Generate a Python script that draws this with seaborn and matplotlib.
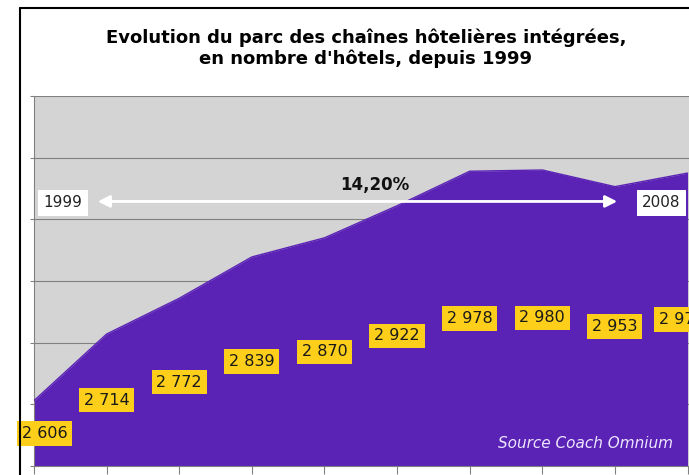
import matplotlib
matplotlib.use("Agg")
import matplotlib.pyplot as plt
from matplotlib.lines import Line2D
import numpy as np
import pandas as pd
import seaborn as sns

years = [1999, 2000, 2001, 2002, 2003, 2004, 2005, 2006, 2007, 2008]
hotels = [2606, 2714, 2772, 2839, 2870, 2922, 2978, 2980, 2953, 2975]
y_ticks = [2500, 2600, 2700, 2800, 2900, 3000, 3100]

PURPLE = "#5A22B5"
GREY_BG = "#D4D4D4"
YELLOW = "#FDCF1A"

sns.set_style("white")
plt.rcParams["font.family"] = ["DejaVu Sans"]

df = pd.DataFrame({"year": years, "hotels": hotels})
df["pos"] = np.arange(len(df))

fig = plt.figure(figsize=(6.89, 4.75), dpi=100)
ax = fig.add_axes([34 / 689, 9 / 475, 655 / 689, 370 / 475])
ax.set_facecolor(GREY_BG)

ax.fill_between(df["pos"], y_ticks[0], df["hotels"], color=PURPLE, lw=0, zorder=2)
sns.lineplot(data=df, x="pos", y="hotels", color=PURPLE, lw=1, ax=ax, zorder=3)

ax.set_xlim(0, 9.02)
ax.set_ylim(y_ticks[0], y_ticks[-1])
ax.set_yticks(y_ticks)
ax.set_xticks(df["pos"])
ax.set_yticklabels([])
ax.set_xticklabels([])
ax.set_xlabel("")
ax.set_ylabel("")
ax.grid(axis="y", color="#808080", lw=0.8, zorder=1)
ax.set_axisbelow(True)
ax.tick_params(axis="y", length=3, color="#808080", left=True)
ax.tick_params(axis="x", length=6, color="#808080", bottom=True)
for side in ["top", "right"]:
    ax.spines[side].set_visible(False)
for side in ["left", "bottom"]:
    ax.spines[side].set_color("#808080")
    ax.spines[side].set_linewidth(0.8)

# value labels, halfway up the area
shift = {0: 0.15, len(df) - 1: -0.08}
for i, row in df.iterrows():
    x = row["pos"] + shift.get(i, 0)
    ax.text(x, (row["hotels"] + y_ticks[0]) / 2, f"{row['hotels']:,}".replace(",", " "),
            ha="center", va="center", fontsize=11.5, color="#1a1a1a", zorder=5,
            bbox=dict(boxstyle="square,pad=0.3", fc=YELLOW, ec="none"), clip_on=False)

# 1999 -> 2008 arrow
ax.annotate("", xy=(0.84, 2929), xytext=(8.07, 2929),
            arrowprops=dict(arrowstyle="<|-|>,head_length=0.7,head_width=0.35",
                            color="white", lw=2), zorder=6)
for x, label in [(0.40, "1999"), (8.64, "2008")]:
    ax.text(x, 2927, label, ha="center", va="center", fontsize=11, color="#222222", zorder=7,
            bbox=dict(boxstyle="square,pad=0.35", fc="white", ec="none"))
ax.text(4.70, 2955, "14,20%", ha="center", va="center", fontsize=12,
        fontweight="bold", color="#111111", zorder=7)

ax.text(8.80, 2537, "Source Coach Omnium", ha="right", va="center", fontsize=11,
        fontstyle="italic", color="#EDE6FF", zorder=7)

fig.text(0.531, 0.899, "Evolution du parc des chaînes hôtelières intégrées,\nen nombre d'hôtels, depuis 1999",
         ha="center", va="center", fontsize=13, fontweight="bold", color="black", linespacing=1.2)

# outer chart frame (cropped on the right and bottom)
fig.add_artist(Line2D([20 / 689, 20 / 689], [0, 1 - 8 / 475], color="black", lw=1.5))
fig.add_artist(Line2D([20 / 689, 1], [1 - 8 / 475, 1 - 8 / 475], color="black", lw=1.5))

fig.savefig("out.png", dpi=100)
